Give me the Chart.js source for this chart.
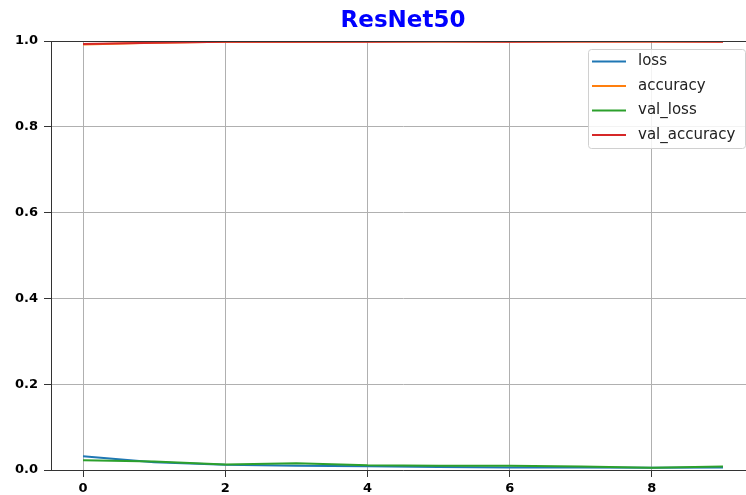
<!DOCTYPE html>
<html>
<head>
<meta charset="utf-8">
<script src="https://cdn.jsdelivr.net/npm/chart.js@4/dist/chart.umd.min.js"></script>
<style>
  html, body { margin: 0; padding: 0; background: #fff; overflow: hidden; width: 746px; height: 495px; }
  #wrap { position: absolute; left: 0; top: 0; width: 808px; height: 495px; }
</style>
</head>
<body>
<div id="wrap"><canvas id="c" width="808" height="495"></canvas></div>
<script>
const epochs = [0, 1, 2, 3, 4, 5, 6, 7, 8, 9];
const lossValues = [0.032, 0.018, 0.012, 0.010, 0.009, 0.007, 0.006, 0.006, 0.005, 0.006];
const accuracyValues = [0.992, 0.996, 0.998, 0.998, 0.999, 0.999, 0.999, 0.999, 0.999, 0.999];
const valLossValues = [0.023, 0.020, 0.013, 0.016, 0.011, 0.010, 0.010, 0.008, 0.005, 0.008];
const valAccuracyValues = [0.993, 0.996, 0.998, 0.998, 0.998, 0.999, 0.998, 0.999, 0.999, 0.998];
const seriesNames = ['loss', 'accuracy', 'val_loss', 'val_accuracy'];
const seriesColors = ['#1f77b4', '#ff7f0e', '#2ca02c', '#d62728'];
const chartTitle = 'ResNet50';

const allSeries = [lossValues, accuracyValues, valLossValues, valAccuracyValues];

const datasets = allSeries.map((vals, i) => ({
  label: seriesNames[i],
  data: epochs.map((e, j) => ({ x: e, y: vals[j] })),
  borderColor: seriesColors[i],
  backgroundColor: seriesColors[i],
  borderWidth: 2,
  pointRadius: 0,
  tension: 0,
  fill: false,
  order: allSeries.length - 1 - i
}));

const framePlugin = {
  id: 'frame',
  afterDatasetsDraw(chart) {
    const { ctx, chartArea } = chart;
    ctx.save();
    ctx.strokeStyle = '#333';
    ctx.lineWidth = 1;
    ctx.beginPath();
    ctx.moveTo(chartArea.left, chartArea.top + 0.5);
    ctx.lineTo(chartArea.right, chartArea.top + 0.5);
    ctx.stroke();
    ctx.restore();
  }
};

const titlePlugin = {
  id: 'axesTitle',
  afterDraw(chart) {
    const { ctx, chartArea } = chart;
    ctx.save();
    ctx.font = 'bold 23px "DejaVu Sans"';
    ctx.fillStyle = '#0000ff';
    ctx.textAlign = 'center';
    ctx.textBaseline = 'middle';
    ctx.fillText(chartTitle, (chartArea.left + chartArea.right) / 2, 21);
    ctx.restore();
  }
};

const boxLegendPlugin = {
  id: 'boxLegend',
  afterDraw(chart) {
    const ctx = chart.ctx;
    const x0 = 588.5, y0 = 49.5, x1 = 745.5, y1 = 148.5, r = 3;
    ctx.save();
    ctx.beginPath();
    ctx.moveTo(x0 + r, y0);
    ctx.lineTo(x1 - r, y0);
    ctx.quadraticCurveTo(x1, y0, x1, y0 + r);
    ctx.lineTo(x1, y1 - r);
    ctx.quadraticCurveTo(x1, y1, x1 - r, y1);
    ctx.lineTo(x0 + r, y1);
    ctx.quadraticCurveTo(x0, y1, x0, y1 - r);
    ctx.lineTo(x0, y0 + r);
    ctx.quadraticCurveTo(x0, y0, x0 + r, y0);
    ctx.closePath();
    ctx.fillStyle = 'rgba(255,255,255,0.85)';
    ctx.fill();
    ctx.strokeStyle = '#d0d0d0';
    ctx.lineWidth = 1;
    ctx.stroke();
    ctx.font = '15px "DejaVu Sans"';
    ctx.textBaseline = 'middle';
    ctx.textAlign = 'left';
    const rows = [61.5, 86, 110.5, 135];
    seriesNames.forEach((name, i) => {
      const y = rows[i];
      ctx.strokeStyle = seriesColors[i];
      ctx.lineWidth = 2;
      ctx.beginPath();
      ctx.moveTo(592, y);
      ctx.lineTo(626, y);
      ctx.stroke();
      ctx.fillStyle = '#222';
      ctx.fillText(name, 638, y);
    });
    ctx.restore();
  }
};

new Chart(document.getElementById('c'), {
  type: 'line',
  data: { datasets },
  options: {
    responsive: false,
    animation: false,
    devicePixelRatio: 1,
    layout: { padding: { left: 0, right: 53, top: 41, bottom: 0 } },
    plugins: {
      legend: { display: false },
      tooltip: { enabled: false },
      title: { display: false }
    },
    scales: {
      x: {
        type: 'linear',
        min: -0.45,
        max: 9.45,
        afterFit(scale) { scale.height = 25; },
        ticks: {
          stepSize: 2,
          includeBounds: false,
          color: '#000',
          padding: 4,
          font: { family: '"DejaVu Sans"', size: 13, weight: 'bold' },
          maxRotation: 0
        },
        grid: { color: '#b0b0b0', lineWidth: 1, tickColor: '#333', tickLength: 7 },
        border: { color: '#333', width: 1 }
      },
      y: {
        min: 0,
        max: 1,
        afterFit(scale) { scale.width = 51; },
        ticks: {
          stepSize: 0.2,
          color: '#000',
          padding: 6,
          font: { family: '"DejaVu Sans"', size: 13, weight: 'bold' },
          callback: (v) => Number(v).toFixed(1)
        },
        grid: { color: '#b0b0b0', lineWidth: 1, tickColor: '#333', tickLength: 7 },
        border: { color: '#333', width: 1 }
      }
    }
  },
  plugins: [framePlugin, titlePlugin, boxLegendPlugin]
});
</script>
</body>
</html>
